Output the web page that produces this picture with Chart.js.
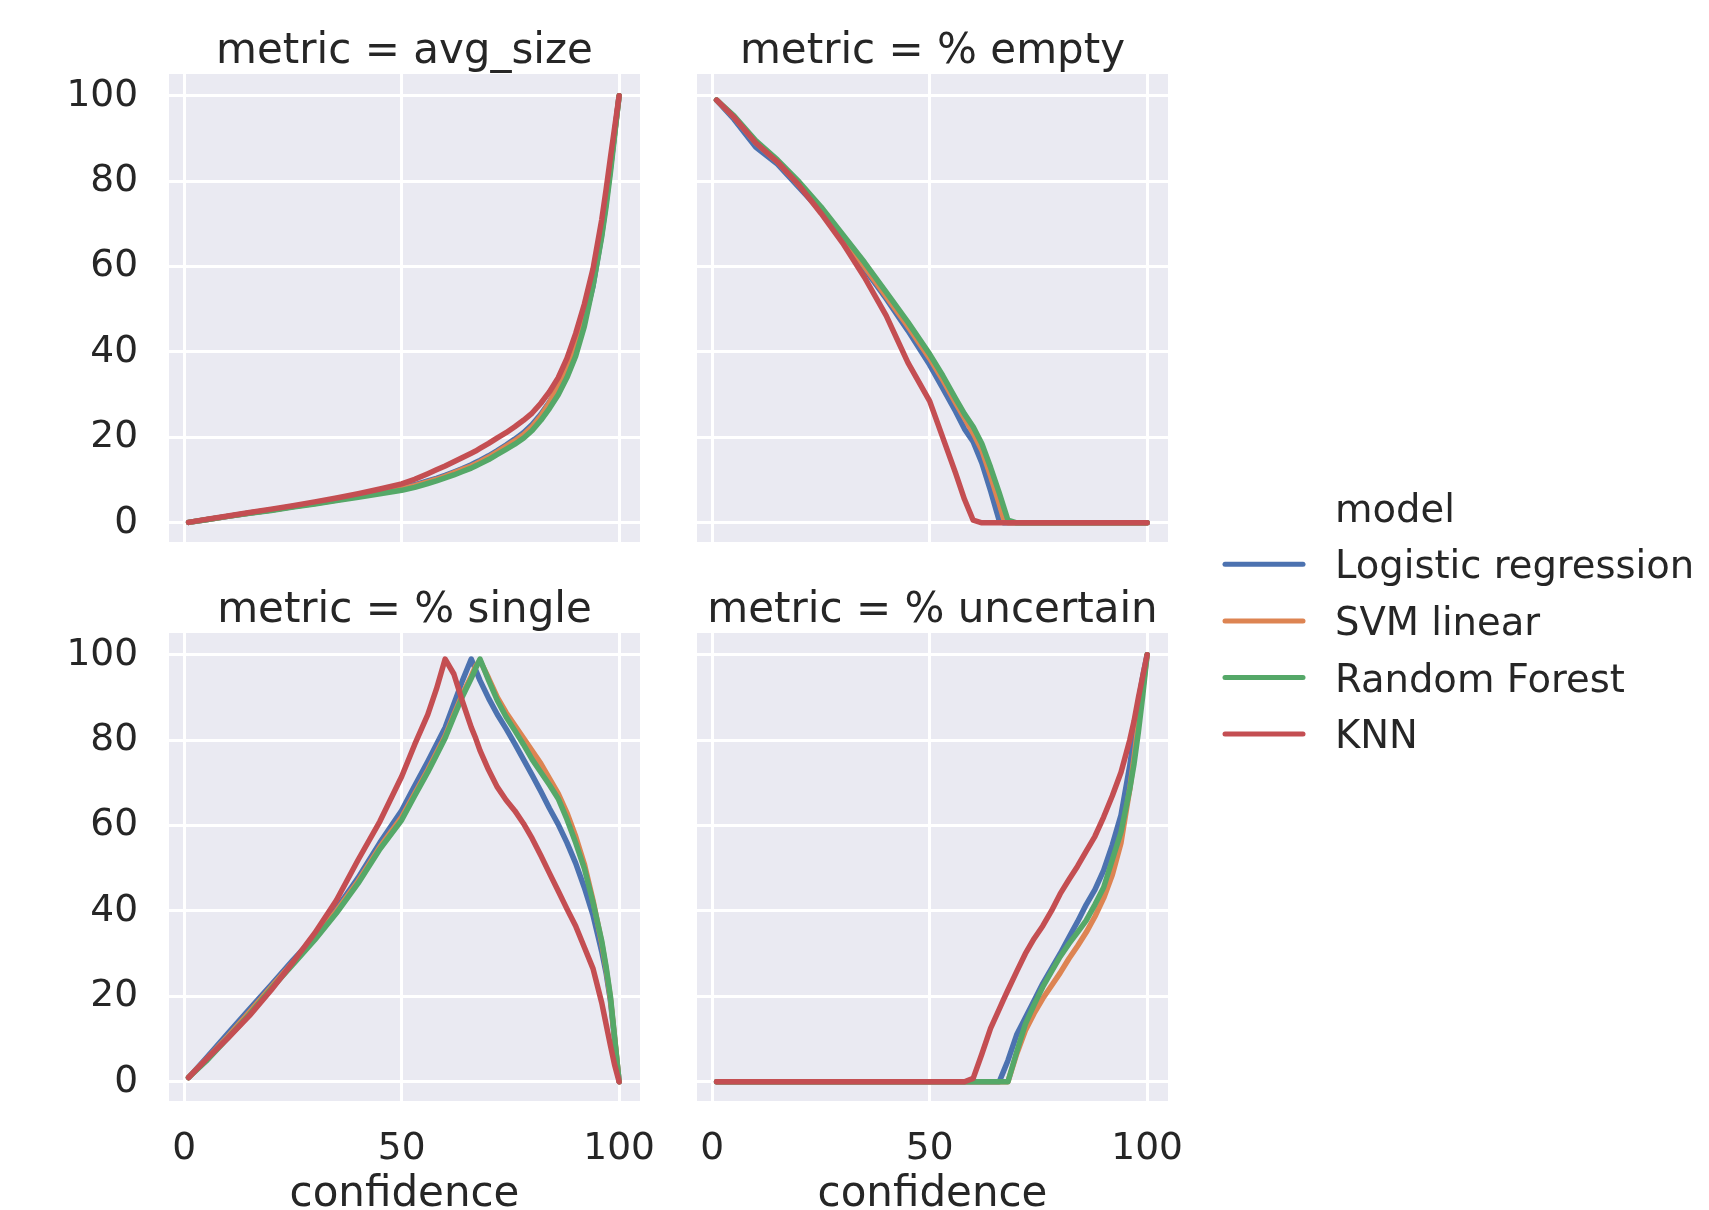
<!DOCTYPE html>
<html>
<head>
<meta charset="utf-8">
<script src="https://cdn.jsdelivr.net/npm/chart.js@4.4.1/dist/chart.umd.min.js"></script>
<style>
  html, body { margin: 0; padding: 0; background: #fff; overflow: hidden; }
  #wrap { position: relative; width: 1709px; height: 1210px; overflow: hidden; }
  canvas { position: absolute; }
</style>
</head>
<body>
<div id="wrap">
  <canvas id="c-avg" width="700" height="600" style="left:0px;top:0px"></canvas>
  <canvas id="c-empty" width="568" height="600" style="left:660px;top:0px"></canvas>
  <canvas id="c-single" width="700" height="681" style="left:0px;top:559px"></canvas>
  <canvas id="c-unc" width="568" height="681" style="left:660px;top:559px"></canvas>
  <canvas id="c-legend" width="509" height="300" style="left:1200px;top:470px"></canvas>
</div>
<script>
// --- data ---
const models = ['Logistic regression', 'SVM linear', 'Random Forest', 'KNN'];
const colors = ['#4C72B0', '#DD8452', '#55A868', '#C44E52'];

const confidence = [1, 5, 10, 15, 20, 25, 30, 35, 40, 45, 50, 53, 56, 58, 60, 62, 64, 66, 67, 68,
  70, 72, 74, 76, 78, 80, 82, 84, 86, 88, 90, 92, 94, 96, 97, 98, 99, 100];

const xTicks = [0, 50, 100];
const yTicks = [0, 20, 40, 60, 80, 100];

// metric = avg_size
const avgSizeLR  = [0.1, 0.7, 1.5, 2.3, 3.0, 3.8, 4.6, 5.4, 6.3, 7.2, 8.2, 8.9, 9.8, 10.4, 11.1, 11.9, 12.7, 13.6, 14.1, 14.6,
  15.7, 16.9, 18.2, 19.6, 21.1, 23.0, 25.4, 28.3, 31.8, 35.8, 40.5, 47.2, 55.5, 67.5, 75.0, 83.0, 91.5, 100];
const avgSizeSVM = [0.1, 0.7, 1.5, 2.3, 3.0, 3.8, 4.5, 5.3, 6.2, 7.1, 8.0, 8.7, 9.6, 10.2, 10.9, 11.7, 12.5, 13.3, 13.8, 14.3,
  15.4, 16.6, 17.9, 19.2, 20.6, 22.5, 25.0, 28.2, 32.0, 36.5, 41.5, 48.0, 56.5, 68.0, 75.5, 83.5, 91.5, 100];
const avgSizeRF  = [0.1, 0.7, 1.5, 2.2, 2.9, 3.7, 4.4, 5.2, 6.0, 6.8, 7.6, 8.3, 9.2, 9.8, 10.5, 11.2, 12.0, 12.8, 13.3, 13.8,
  14.8, 16.0, 17.2, 18.4, 19.8, 21.6, 24.0, 26.8, 30.0, 34.0, 39.0, 46.0, 55.5, 67.0, 74.0, 82.0, 91.0, 100];
const avgSizeKNN = [0.1, 0.8, 1.6, 2.4, 3.2, 4.0, 4.9, 5.8, 6.8, 7.9, 9.1, 10.2, 11.5, 12.4, 13.3, 14.3, 15.3, 16.3, 16.8, 17.4,
  18.6, 19.9, 21.1, 22.5, 24.0, 25.7, 28.0, 30.7, 34.0, 38.5, 44.3, 51.2, 59.5, 71.0, 78.0, 85.5, 92.8, 100];

// metric = % empty
const emptyLR  = [99, 94.5, 88, 84, 78.5, 73, 66.5, 59.5, 52.5, 45, 37, 31.5, 26, 22, 19, 14, 7.5, 0.5, 0, 0,
  0, 0, 0, 0, 0, 0, 0, 0, 0, 0, 0, 0, 0, 0, 0, 0, 0, 0];
const emptySVM = [99, 95, 89, 84.5, 79, 73.5, 67, 60, 53, 46, 38.5, 33.5, 28, 24.5, 21, 17, 11, 4.5, 1, 0,
  0, 0, 0, 0, 0, 0, 0, 0, 0, 0, 0, 0, 0, 0, 0, 0, 0, 0];
const emptyRF  = [99, 95.3, 89.5, 85, 79.8, 74, 67.5, 61, 54, 47, 39.5, 34.5, 29, 25.5, 22.5, 18.5, 13, 7, 3.8, 0.6,
  0, 0, 0, 0, 0, 0, 0, 0, 0, 0, 0, 0, 0, 0, 0, 0, 0, 0];
const emptyKNN = [99, 95, 89, 84.5, 79, 72.5, 65.5, 57.5, 48.5, 37.5, 28.5, 20, 11.5, 5.5, 0.6, 0, 0, 0, 0, 0,
  0, 0, 0, 0, 0, 0, 0, 0, 0, 0, 0, 0, 0, 0, 0, 0, 0, 0];

// metric = % single
const singleLR  = [1, 5.5, 11.3, 17, 22.7, 28.5, 34, 40.5, 47.8, 56, 63.5, 69.3, 75, 79, 83, 88.5, 94, 99, 96.5, 94,
  89.8, 86, 82.7, 79.2, 75.5, 71.8, 68, 64, 60.3, 56, 51.2, 45.5, 39, 30.5, 25.5, 19, 9.5, 0];
const singleSVM = [1, 5.2, 10.6, 16.3, 22.2, 28, 33.6, 40, 47, 55, 62, 67.5, 73, 77, 81, 86, 90.8, 95, 97.3, 98.7,
  94.5, 90, 86.5, 83.5, 80.5, 77.5, 74.5, 71, 67.5, 63, 57.5, 51, 42.5, 32.5, 26.5, 19.5, 10, 0];
const singleRF  = [1, 4.8, 10.2, 15.8, 21.8, 27.5, 33.2, 39.5, 46.5, 54.5, 61.3, 67, 72.5, 76.5, 80.5, 85.5, 90.3, 94.5, 96.8, 99,
  94, 89.3, 85.5, 82.3, 79, 75.5, 72.5, 69.5, 66.3, 61.5, 56, 50, 42, 33, 27, 20, 10, 0];
const singleKNN = [1, 5.2, 10.2, 15.5, 21.5, 28, 34.8, 42.5, 52, 61, 71.5, 79, 86, 92, 99, 95.5, 89, 83, 80.5, 77.6,
  73, 69, 66, 63.5, 60.5, 57, 53, 48.8, 44.7, 40.5, 36.5, 31.5, 26.5, 18.5, 13.5, 8.5, 3.8, 0];

// metric = % uncertain
const uncertainLR  = [0, 0, 0, 0, 0, 0, 0, 0, 0, 0, 0, 0, 0, 0, 0, 0, 0, 0, 2.5, 5,
  11, 15, 19, 23, 26.5, 30, 33.8, 37.5, 41.5, 45, 49.5, 55.5, 62.5, 74, 81, 89, 95, 100];
const uncertainSVM = [0, 0, 0, 0, 0, 0, 0, 0, 0, 0, 0, 0, 0, 0, 0, 0, 0, 0, 0, 0,
  6.5, 12, 16, 19.5, 22.5, 25.5, 28.8, 31.8, 35, 38.7, 43, 48.5, 56, 68.5, 76, 84, 92, 100];
const uncertainRF  = [0, 0, 0, 0, 0, 0, 0, 0, 0, 0, 0, 0, 0, 0, 0, 0, 0, 0, 0, 0,
  7, 13.5, 18, 22.2, 25.8, 29.3, 32.3, 35, 37.8, 41.5, 45.5, 52, 58.5, 68.5, 74.5, 82, 90.5, 100];
const uncertainKNN = [0, 0, 0, 0, 0, 0, 0, 0, 0, 0, 0, 0, 0, 0, 0.8, 6.5, 12.5, 17, 19.3, 21.5,
  25.8, 30, 33.5, 36.5, 40, 44, 47.3, 50.5, 54, 57.5, 62, 67, 72.5, 80, 84.5, 90, 95, 100];

const TEXT = '#262626';
const PANEL_BG = '#EAEAF2';

Chart.defaults.font.family = "'DejaVu Sans', sans-serif";
Chart.defaults.color = TEXT;

const panelBackground = {
  id: 'panelBackground',
  beforeDraw(chart) {
    const { ctx, chartArea } = chart;
    ctx.save();
    ctx.fillStyle = PANEL_BG;
    ctx.fillRect(chartArea.left, chartArea.top, chartArea.width, chartArea.height);
    ctx.restore();
  }
};

function makePanel(id, title, series, showX, showY, padLeft) {
  const datasets = series.map((vals, i) => ({
    label: models[i],
    data: confidence.map((c, k) => ({ x: c, y: vals[k] })),
    borderColor: colors[i],
    backgroundColor: colors[i],
    borderWidth: 5.5,
    pointRadius: 0,
    tension: 0,
    borderJoinStyle: 'round',
    borderCapStyle: 'round',
    order: series.length - i
  }));

  return new Chart(document.getElementById(id), {
    type: 'line',
    data: { datasets },
    options: {
      responsive: false,
      animation: false,
      devicePixelRatio: 1,
      // top row: 58px spare at the bottom (the y tick padding is also reserved vertically)
      layout: { padding: { left: padLeft, right: 60, top: 0, bottom: showX ? 0 : 58 } },
      plugins: {
        legend: { display: false },
        tooltip: { enabled: false },
        title: {
          display: true,
          text: title,
          fullSize: false,
          color: TEXT,
          font: { size: 42, weight: 'normal', lineHeight: 1.043 },
          padding: { top: 30.2, bottom: 0 }
        }
      },
      scales: {
        x: {
          type: 'linear',
          min: -3.5,
          max: 104.8,
          afterBuildTicks: s => { s.ticks = xTicks.map(v => ({ value: v })); },
          afterFit: s => { s.height = showX ? 139 : 0; },
          ticks: { display: showX, padding: 26, maxRotation: 0, color: TEXT, font: { size: 37.5 } },
          grid: { color: '#ffffff', lineWidth: 3, drawTicks: false },
          border: { display: false },
          title: {
            display: showX,
            text: 'confidence',
            color: TEXT,
            font: { size: 42 },
            padding: { top: 0, bottom: 19.5 }
          }
        },
        y: {
          type: 'linear',
          min: -4.5,
          max: 105.1,
          afterBuildTicks: s => { s.ticks = yTicks.map(v => ({ value: v })); },
          afterFit: s => { s.width = showY ? 169 : 0; },
          ticks: { display: showY, padding: 31, color: TEXT, font: { size: 37.5 } },
          grid: { color: '#ffffff', lineWidth: 3, drawTicks: false },
          border: { display: false }
        }
      }
    },
    plugins: [panelBackground]
  });
}

makePanel('c-avg', 'metric = avg_size', [avgSizeLR, avgSizeSVM, avgSizeRF, avgSizeKNN], false, true, 0);
makePanel('c-empty', 'metric = % empty', [emptyLR, emptySVM, emptyRF, emptyKNN], false, false, 37);
makePanel('c-single', 'metric = % single', [singleLR, singleSVM, singleRF, singleKNN], true, true, 0);
makePanel('c-unc', 'metric = % uncertain', [uncertainLR, uncertainSVM, uncertainRF, uncertainKNN], true, false, 37);

// legend on its own canvas, seaborn style: title over the labels, line handles on the left
const modelLegend = {
  id: 'modelLegend',
  afterDraw(chart, args, opts) {
    const ctx = chart.ctx;
    ctx.save();
    ctx.font = opts.fontSize + "px 'DejaVu Sans'";
    ctx.fillStyle = TEXT;
    ctx.textBaseline = 'alphabetic';
    ctx.textAlign = 'left';
    ctx.fillText(opts.title, opts.textX, opts.titleBaseline);
    chart.data.datasets.forEach((ds, i) => {
      const lineY = opts.firstLineY + i * opts.rowGap;
      ctx.strokeStyle = ds.borderColor;
      ctx.lineWidth = ds.borderWidth;
      ctx.lineCap = 'round';
      ctx.beginPath();
      ctx.moveTo(opts.handleX0, lineY);
      ctx.lineTo(opts.handleX1, lineY);
      ctx.stroke();
      ctx.fillText(ds.label, opts.textX, opts.firstBaseline + i * opts.rowGap);
    });
    ctx.restore();
  }
};

new Chart(document.getElementById('c-legend'), {
  type: 'line',
  data: {
    datasets: models.map((m, i) => ({ label: m, data: [], borderColor: colors[i], borderWidth: 5 }))
  },
  options: {
    responsive: false,
    animation: false,
    devicePixelRatio: 1,
    scales: { x: { display: false }, y: { display: false } },
    plugins: {
      legend: { display: false },
      tooltip: { enabled: false },
      modelLegend: {
        title: 'model',
        fontSize: 38.5,
        textX: 135,
        titleBaseline: 52,
        handleX0: 25,
        handleX1: 103,
        firstLineY: 94.3,
        firstBaseline: 108.3,
        rowGap: 56.6
      }
    }
  },
  plugins: [modelLegend]
});
</script>
</body>
</html>
